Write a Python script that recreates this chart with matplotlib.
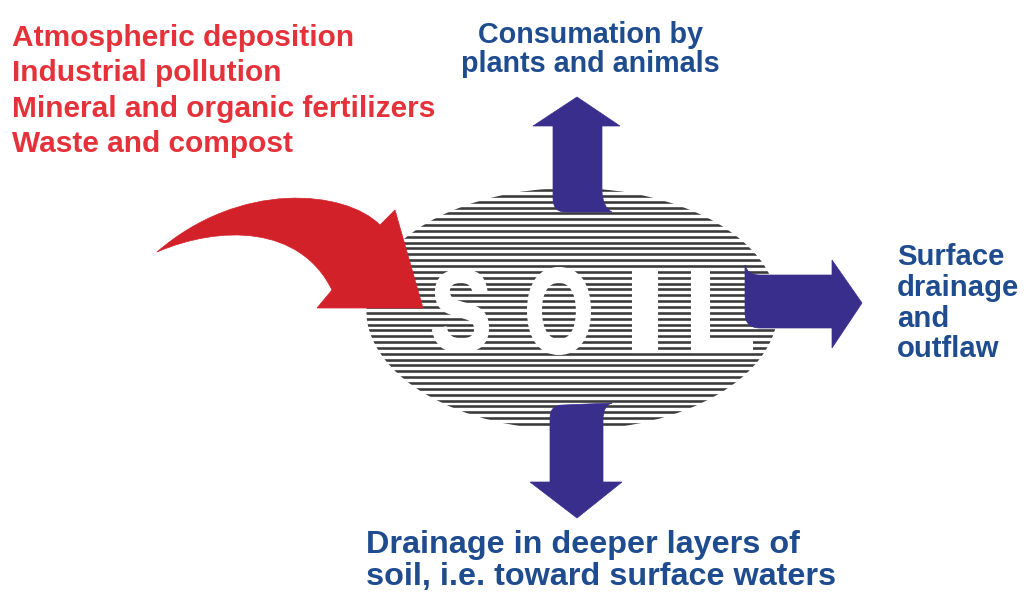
import numpy as np
import matplotlib
matplotlib.use("Agg")
import matplotlib.pyplot as plt
from matplotlib.patches import Ellipse, PathPatch
from matplotlib.path import Path
from matplotlib.textpath import TextPath
from matplotlib.font_manager import FontProperties
from matplotlib.transforms import Affine2D

# ==========================================
# text content
# ==========================================
INPUT_SOURCES = ["Atmospheric deposition", "Industrial pollution",
                 "Mineral and organic fertilizers", "Waste and compost"]
UPTAKE_LINES = ["Consumation by", "plants and animals"]
OUTFLOW_LINES = ["Surface", "drainage", "and", "outflaw"]
LEACHING_LINES = ["Drainage in deeper layers of", "soil, i.e. toward surface waters"]
SOIL_WORD = ["S", "O", "I", "L"]

RED_TEXT = "#e5323a"
RED_ARROW = "#d3212a"
BLUE_TEXT = "#1f4c8f"
BLUE_ARROW = "#3a2e8c"
STRIPE = "#3a3a3a"

W, H = 1026, 594
fig = plt.figure(figsize=(W / 100, H / 100), dpi=100)
ax = fig.add_axes([0, 0, 1, 1])
ax.set_xlim(0, W)
ax.set_ylim(H, 0)
ax.axis("off")

PX = 72 / 100  # px -> pt
FONT = "Liberation Sans"

# ---- striped ellipse ----
ell_cx, ell_cy, ell_w, ell_h = 572, 309, 412, 242
clip = Ellipse((ell_cx, ell_cy), ell_w, ell_h, transform=ax.transData,
               fc="none", ec="none")
ax.add_patch(clip)
for y in np.arange(ell_cy - ell_h / 2 + 2, ell_cy + ell_h / 2, 5.85):
    ln, = ax.plot([ell_cx - ell_w / 2, ell_cx + ell_w / 2], [y, y],
                  color=STRIPE, lw=2.6 * PX, solid_capstyle="butt", zorder=2)
    ln.set_clip_path(clip)

# ---- SOIL letters in white ----
fp = FontProperties(family=FONT, weight="bold")
letter_boxes = [(433, 488, 270, 352), (528, 590, 268, 354),
                (633, 657, 270, 352), (692, 752, 270, 352)]
for ch, (x0, x1, y0, y1) in zip(SOIL_WORD, letter_boxes):
    tp = TextPath((0, 0), ch, size=100, prop=fp)
    ext = tp.get_extents()
    tr = (Affine2D().translate(-ext.x0, -ext.y0)
          .scale((x1 - x0) / ext.width, -(y1 - y0) / ext.height)
          .translate(x0, y1))
    ax.add_patch(PathPatch(tr.transform_path(tp), fc="white", ec="white",
                           lw=1.5, zorder=3))

# ---- red curved input arrow ----
red_verts = [
    (380, 225),
    (345, 190), (240, 180), (157, 252),   # upper edge back to tail
    (220, 225), (300, 225), (332, 290),   # lower edge
    (317, 308), (423, 308), (395, 210),   # arrow head
    (380, 225),
]
red_codes = [Path.MOVETO,
             Path.CURVE4, Path.CURVE4, Path.CURVE4,
             Path.CURVE4, Path.CURVE4, Path.CURVE4,
             Path.LINETO, Path.LINETO, Path.LINETO,
             Path.CLOSEPOLY]
ax.add_patch(PathPatch(Path(red_verts, red_codes), fc=RED_ARROW, ec=RED_ARROW,
                       lw=0.5, zorder=4))

# ---- blue output arrows ----
up_verts = [(577, 97), (620, 126), (602, 126), (602, 192),
            (603, 208), (612, 212), (565, 212), (553, 212), (553, 198),
            (553, 126), (533, 126), (577, 97)]
up_codes = [Path.MOVETO, Path.LINETO, Path.LINETO, Path.LINETO,
            Path.CURVE3, Path.CURVE3, Path.LINETO, Path.CURVE3, Path.CURVE3,
            Path.LINETO, Path.LINETO, Path.CLOSEPOLY]
down_verts = [(612, 403), (603, 405), (603, 420), (603, 482), (622, 482),
              (577, 518), (530, 482), (550, 482), (550, 418),
              (550, 405), (563, 405), (612, 403)]
down_codes = [Path.MOVETO, Path.CURVE3, Path.CURVE3, Path.LINETO, Path.LINETO,
              Path.LINETO, Path.LINETO, Path.LINETO, Path.LINETO,
              Path.CURVE3, Path.CURVE3, Path.CLOSEPOLY]
right_verts = [(745, 265), (747, 275), (760, 275), (832, 275), (832, 260),
               (862, 303), (832, 348), (832, 328), (760, 328),
               (745, 328), (745, 313), (745, 265)]
right_codes = [Path.MOVETO, Path.CURVE3, Path.CURVE3, Path.LINETO, Path.LINETO,
               Path.LINETO, Path.LINETO, Path.LINETO, Path.LINETO,
               Path.CURVE3, Path.CURVE3, Path.CLOSEPOLY]
for v, c in [(up_verts, up_codes), (down_verts, down_codes), (right_verts, right_codes)]:
    ax.add_patch(PathPatch(Path(v, c), fc=BLUE_ARROW, ec=BLUE_ARROW, lw=0.5, zorder=4))

# ---- labels ----
for i, s in enumerate(INPUT_SOURCES):
    ax.text(12, 46 + i * 35.3, s, color=RED_TEXT, fontsize=29.9 * PX,
            fontweight="bold", family=FONT, ha="left", va="baseline")
for i, s in enumerate(UPTAKE_LINES):
    ax.text(590, 43 + i * 28.7, s, color=BLUE_TEXT, fontsize=28.8 * PX,
            fontweight="bold", family=FONT, ha="center", va="baseline")
for i, s in enumerate(OUTFLOW_LINES):
    ax.text(897, 265 + i * 30.8, s, color=BLUE_TEXT, fontsize=29.2 * PX,
            fontweight="bold", family=FONT, ha="left", va="baseline")
for i, s in enumerate(LEACHING_LINES):
    ax.text(366, 553 + i * 32, s, color=BLUE_TEXT, fontsize=32.4 * PX,
            fontweight="bold", family=FONT, ha="left", va="baseline")

fig.savefig("out.png", dpi=100, facecolor="white")
